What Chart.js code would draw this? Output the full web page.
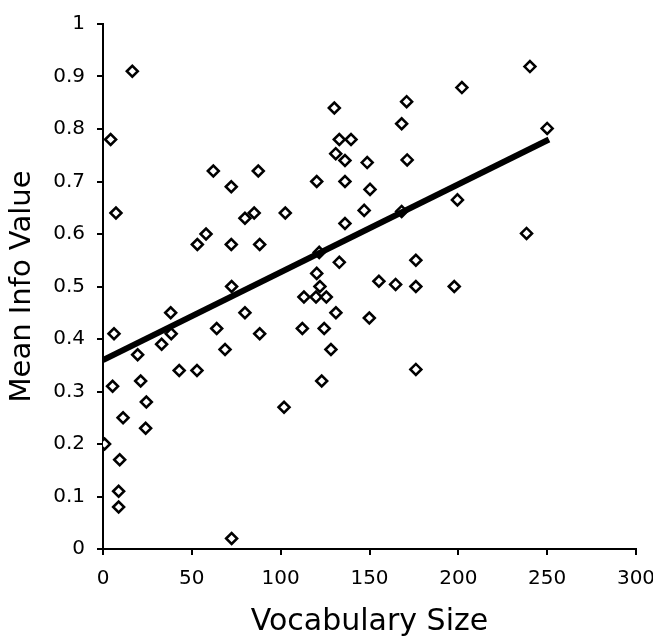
<!DOCTYPE html>
<html>
<head>
<meta charset="utf-8">
<script src="https://cdn.jsdelivr.net/npm/chart.js@4"></script>
<style>
  html, body { margin: 0; padding: 0; background: #fff; }
</style>
</head>
<body>
<canvas id="chart" width="653" height="637"></canvas>
<script>
// values
const vocabSize = [
  4.3, 16.5, 7.3, 6.2, 5.4, 0.9, 9.4, 8.8, 8.8, 11.3,
  19.5, 21.2, 24.4, 24, 33, 38.1, 38.4, 42.9, 52.9, 53.1,
  58, 62.1, 64, 68.7, 72.2, 72.2, 72.4, 72.4, 79.9, 79.9,
  85.1, 87.4, 88.2, 88.2, 101.9, 102.6, 112.2, 113.1, 119.9, 120.3,
  120.3, 121.7, 122.1, 123.1, 124.5, 125.7, 128.3, 130.2, 131, 131.1,
  133, 133, 136.2, 136.2, 136.2, 139.6, 147, 148.7, 149.9, 150.3,
  155.3, 164.7, 168.1, 168.1, 170.9, 171.2, 176.1, 176.1, 176.1, 197.7,
  199.5, 202, 238.4, 240.3, 250
];
const meanInfo = [
  0.78, 0.91, 0.64, 0.41, 0.31, 0.2, 0.17, 0.11, 0.08, 0.25,
  0.37, 0.32, 0.28, 0.23, 0.39, 0.45, 0.41, 0.34, 0.34, 0.58,
  0.6, 0.72, 0.42, 0.38, 0.69, 0.58, 0.5, 0.02, 0.63, 0.45,
  0.64, 0.72, 0.58, 0.41, 0.27, 0.64, 0.42, 0.48, 0.48, 0.7,
  0.525, 0.565, 0.5, 0.32, 0.42, 0.48, 0.38, 0.84, 0.753, 0.45,
  0.78, 0.546, 0.74, 0.7, 0.62, 0.78, 0.645, 0.736, 0.44, 0.685,
  0.51, 0.504, 0.81, 0.643, 0.852, 0.741, 0.55, 0.5, 0.342, 0.5,
  0.665, 0.879, 0.601, 0.919, 0.801
];

// trend line ends
const trendX = [0, 251];
const trendY = [0.36, 0.78];

const xTickLabels = ["0", "50", "100", "150", "200", "250", "300"];
const yTickLabels = ["0", "0.1", "0.2", "0.3", "0.4", "0.5", "0.6", "0.7", "0.8", "0.9", "1"];

const font = "'DejaVu Sans', Verdana, sans-serif";

new Chart(document.getElementById("chart"), {
  type: "scatter",
  data: {
    datasets: [
      {
        type: "line",
        data: trendX.map((x, i) => ({ x: x, y: trendY[i] })),
        borderColor: "#000",
        borderWidth: 6,
        pointRadius: 0,
        fill: false
      },
      {
        data: vocabSize.map((x, i) => ({ x: x, y: meanInfo[i] })),
        pointStyle: "rectRot",
        pointRadius: 5.5,
        pointBorderWidth: 2.5,
        pointBorderColor: "#000",
        pointBackgroundColor: "#fff"
      }
    ]
  },
  options: {
    responsive: false,
    animation: false,
    layout: { padding: { top: 18, right: 17, left: 0, bottom: 0 } },
    plugins: { legend: { display: false }, tooltip: { enabled: false } },
    scales: {
      x: {
        type: "linear",
        min: 0,
        max: 300,
        afterFit: s => { s.height = 88; s.paddingRight = 0; s.paddingLeft = 0; },
        border: { color: "#000", width: 2 },
        grid: { drawOnChartArea: false, color: "#000", lineWidth: 2, tickLength: 6 },
        ticks: {
          stepSize: 50,
          padding: 12,
          color: "#000",
          font: { family: font, size: 20 },
          callback: (v, i) => xTickLabels[i]
        },
        title: {
          display: true,
          text: "Vocabulary Size",
          color: "#000",
          font: { family: font, size: 30, lineHeight: 1 },
          padding: { top: 0, bottom: 0 }
        }
      },
      y: {
        min: 0,
        max: 1,
        afterFit: s => { s.width = 103; },
        border: { color: "#000", width: 2 },
        grid: { drawOnChartArea: false, color: "#000", lineWidth: 2, tickLength: 6 },
        ticks: {
          stepSize: 0.1,
          padding: 12,
          color: "#000",
          font: { family: font, size: 20 },
          callback: (v, i) => yTickLabels[i]
        },
        title: {
          display: true,
          text: "Mean Info Value",
          color: "#000",
          font: { family: font, size: 29, lineHeight: 1 },
          padding: { top: 8, bottom: 0 }
        }
      }
    }
  }
});
</script>
</body>
</html>
